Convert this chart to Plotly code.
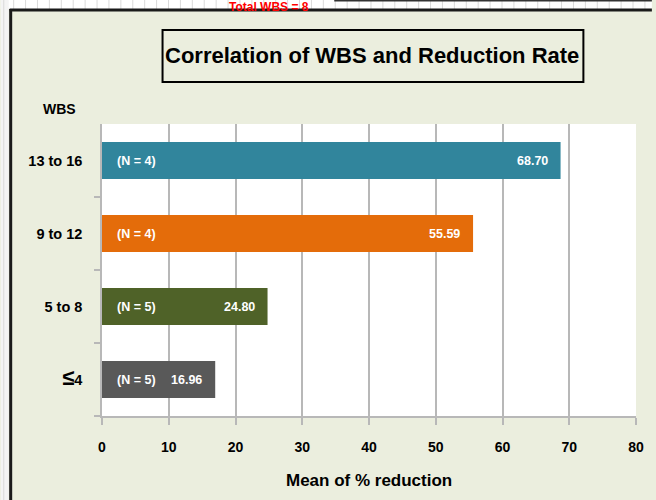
import plotly.graph_objects as go

# ---- data ----
categories = ["13 to 16", "9 to 12", "5 to 8", "≤4"]
tick_labels = ["13 to 16", "9 to 12", "5 to 8", "<span style='font-size:22px'>≤</span>4"]
mean_reduction = [68.70, 55.59, 24.80, 16.96]
n_counts = [4, 4, 5, 5]
x_ticks = [0, 10, 20, 30, 40, 50, 60, 70, 80]

# ---- styles ----
bar_colors = ["#31859C", "#E46C0A", "#4F6228", "#595959"]
FONT = "Liberation Sans, Arial, sans-serif"
BG = "#EBEEDE"
GRID = "#B8B8B8"

W, H = 656, 500
L, R, T, B = 102, 16, 124, 84
PW, PH = W - L - R, H - T - B


def xp(px):
    return (px - L) / PW


def yp(py):
    return (H - B - py) / PH


fig = go.Figure()
fig.add_trace(go.Bar(
    x=mean_reduction,
    y=categories,
    orientation="h",
    marker=dict(color=bar_colors, line=dict(width=0)),
    width=0.51,
    hoverinfo="skip",
))

annotations = []
for cat, v, n in zip(categories, mean_reduction, n_counts):
    annotations.append(dict(
        x=0, y=cat, xref="x", yref="y", xanchor="left", yanchor="middle",
        xshift=13, showarrow=False,
        text=f"<b>(N = {n})</b>",
        font=dict(family=FONT, size=12.5, color="white"),
    ))
    annotations.append(dict(
        x=v, y=cat, xref="x", yref="y", xanchor="right", yanchor="middle",
        xshift=-11, showarrow=False,
        text=f"<b>{v:.2f}</b>",
        font=dict(family=FONT, size=12.5, color="white"),
    ))

# title
annotations.append(dict(
    x=xp(374), y=yp(56), xref="paper", yref="paper", xanchor="center", yanchor="middle",
    showarrow=False, text="<b>Correlation of WBS and Reduction Rate</b>",
    font=dict(family=FONT, size=22, color="black"),
))
# WBS label
annotations.append(dict(
    x=xp(59), y=yp(109), xref="paper", yref="paper", xanchor="center", yanchor="middle",
    showarrow=False, text="<b>WBS</b>",
    font=dict(family=FONT, size=14, color="black"),
))
# x axis title
annotations.append(dict(
    x=0.5, y=yp(481), xref="paper", yref="paper", xanchor="center", yanchor="middle",
    showarrow=False, text="<b>Mean of % reduction</b>",
    font=dict(family=FONT, size=17, color="black"),
))
# red note at top
annotations.append(dict(
    x=xp(270), y=yp(7), xref="paper", yref="paper", xanchor="center", yanchor="middle",
    showarrow=False, text="<b>Total WBS = 8</b>",
    font=dict(family=FONT, size=12, color="#FF0000"),
))

shapes = []
# white spreadsheet strip at top and left
shapes.append(dict(type="rect", xref="paper", yref="paper", layer="below",
                   x0=xp(0), x1=xp(W), y0=yp(0), y1=yp(9),
                   fillcolor="white", line=dict(width=0)))
shapes.append(dict(type="rect", xref="paper", yref="paper", layer="below",
                   x0=xp(0), x1=xp(8), y0=yp(0), y1=yp(H),
                   fillcolor="#F4F4F4", line=dict(width=0)))
for gx in range(13, W, 12):
    shapes.append(dict(type="line", xref="paper", yref="paper", layer="below",
                       x0=xp(gx), x1=xp(gx), y0=yp(0), y1=yp(9),
                       line=dict(color="#DADADA", width=1)))
shapes.append(dict(type="line", xref="paper", yref="paper", layer="below",
                   x0=xp(3), x1=xp(3), y0=yp(0), y1=yp(H),
                   line=dict(color="#DADADA", width=1)))
shapes.append(dict(type="line", xref="paper", yref="paper",
                   x0=xp(336), x1=xp(W), y0=yp(0.5), y1=yp(0.5),
                   line=dict(color="#333333", width=2)))
# frame border
shapes.append(dict(type="line", xref="paper", yref="paper",
                   x0=xp(10), x1=xp(10), y0=yp(9), y1=yp(H),
                   line=dict(color="#1A1A1A", width=3)))
shapes.append(dict(type="line", xref="paper", yref="paper",
                   x0=xp(9), x1=xp(W), y0=yp(10), y1=yp(10),
                   line=dict(color="#1A1A1A", width=3)))
# title box
shapes.append(dict(type="rect", xref="paper", yref="paper",
                   x0=xp(163), x1=xp(587), y0=yp(30), y1=yp(82),
                   line=dict(color="black", width=2), fillcolor="rgba(0,0,0,0)"))

fig.update_layout(
    width=W, height=H,
    margin=dict(l=L, r=R, t=T, b=B, pad=0),
    paper_bgcolor=BG, plot_bgcolor="white",
    showlegend=False,
    bargap=0.49,
    annotations=annotations,
    shapes=shapes,
    font=dict(family=FONT, color="black"),
)
fig.update_xaxes(
    range=[0, 80], tickvals=x_ticks, ticktext=[str(t) for t in x_ticks],
    showgrid=True, gridcolor=GRID, gridwidth=1.5,
    zeroline=False, showline=True, linecolor=GRID, linewidth=1.5,
    ticks="outside", ticklen=7, tickcolor=GRID, tickwidth=1.5,
    ticklabelstandoff=10,
    tickfont=dict(family=FONT, size=14, color="black", weight="bold"),
    fixedrange=True,
)
fig.update_yaxes(
    categoryorder="array", categoryarray=categories[::-1],
    tickvals=categories, ticktext=tick_labels,
    showgrid=False, zeroline=False,
    showline=True, linecolor=GRID, linewidth=1.5,
    ticks="outside", ticklen=6, tickcolor=GRID, tickwidth=1.5, tickson="boundaries",
    ticklabelstandoff=15,
    tickfont=dict(family=FONT, size=14.5, color="black", weight="bold"),
    fixedrange=True,
)

fig.write_html(
    "out.html",
    config={"displayModeBar": False},
    post_script="document.body.style.margin='0px';document.body.style.overflow='hidden';",
)
